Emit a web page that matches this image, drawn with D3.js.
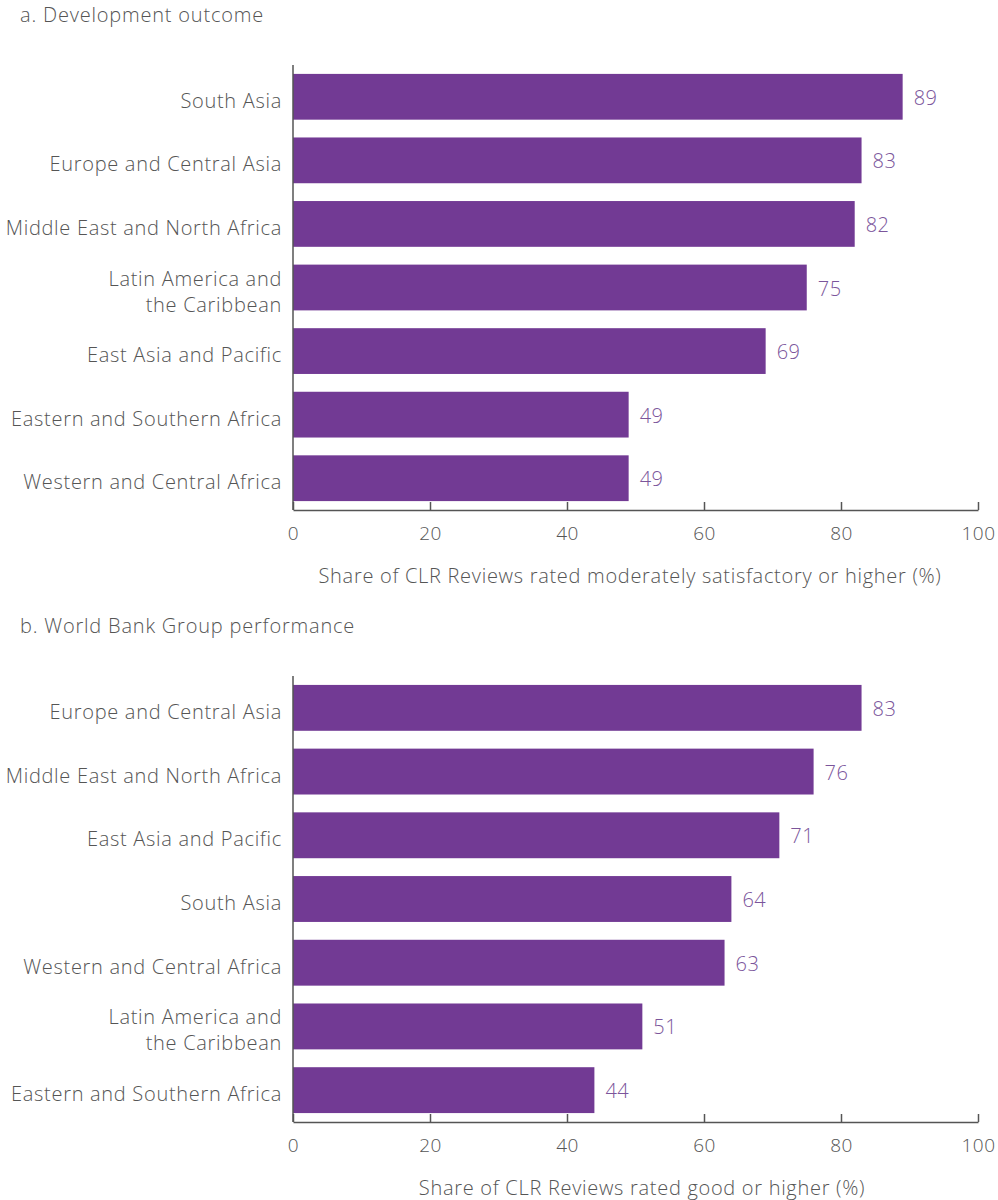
<!DOCTYPE html>
<html>
<head>
<meta charset="utf-8">
<script src="https://cdn.jsdelivr.net/npm/d3@7"></script>
<style>
  body { margin: 0; background: #fff; }
  svg text { font-family: "Open Sans", Lato, sans-serif; font-weight: 300; }
</style>
</head>
<body>
<svg id="chart"></svg>
<script>
// Panel a: development outcome
const regionsA = ['South Asia', 'Europe and Central Asia', 'Middle East and North Africa',
  'Latin America and\nthe Caribbean', 'East Asia and Pacific', 'Eastern and Southern Africa',
  'Western and Central Africa'];
const valuesA = [89, 83, 82, 75, 69, 49, 49];

// Panel b: World Bank Group performance
const regionsB = ['Europe and Central Asia', 'Middle East and North Africa', 'East Asia and Pacific',
  'South Asia', 'Western and Central Africa', 'Latin America and\nthe Caribbean',
  'Eastern and Southern Africa'];
const valuesB = [83, 76, 71, 64, 63, 51, 44];

const xTicks = [0, 20, 40, 60, 80, 100];

const width = 998, height = 1200;
const barColor = '#723a94';
const textColor = '#555555';

const svg = d3.select('#chart')
    .attr('width', width)
    .attr('height', height);

function drawPanel(cfg) {
  const x = d3.scaleLinear()
      .domain([0, 100])
      .range([293, 978]);

  const y = d3.scaleBand()
      .domain(cfg.regions)
      .range([cfg.top, cfg.bottom])
      .paddingInner(0.28)
      .paddingOuter(0.14);

  const g = svg.append('g');

  // Panel title
  g.append('text')
      .attr('x', 20)
      .attr('y', cfg.titleY)
      .attr('dy', '0.35em')
      .attr('fill', textColor)
      .style('font-size', '20px')
      .style('letter-spacing', '0.8px')
      .text(cfg.title);

  // Bars
  g.selectAll('.bar')
      .data(cfg.values)
    .enter().append('rect')
      .attr('class', 'bar')
      .attr('x', x(0))
      .attr('y', (d, i) => y(cfg.regions[i]))
      .attr('width', d => x(d) - x(0))
      .attr('height', y.bandwidth())
      .attr('fill', barColor);

  // Value labels
  g.selectAll('.value')
      .data(cfg.values)
    .enter().append('text')
      .attr('class', 'value')
      .attr('x', d => x(d) + 11)
      .attr('y', (d, i) => y(cfg.regions[i]) + y.bandwidth() / 2 + 1)
      .attr('dy', '0.35em')
      .attr('fill', '#7b559b')
      .style('font-size', '20px')
      .style('letter-spacing', '0.5px')
      .text(d => d);

  // X axis, ticks pointing up
  const xAxis = d3.axisBottom(x)
      .tickValues(xTicks)
      .tickSizeInner(-8)
      .tickSizeOuter(0)
      .tickPadding(17);

  const xAxisG = g.append('g')
      .attr('transform', `translate(0,${cfg.bottom})`)
      .call(xAxis);
  xAxisG.select('.domain').attr('stroke', '#555').attr('stroke-width', 1.5);
  xAxisG.selectAll('.tick line').attr('stroke', '#555').attr('stroke-width', 1.5);
  xAxisG.selectAll('.tick text')
      .attr('fill', textColor)
      .style('font-size', '19px')
      .style('letter-spacing', '0.5px')
      .style('font-family', '"Open Sans", Lato, sans-serif');

  // Y axis line
  g.append('line')
      .attr('x1', x(0)).attr('x2', x(0))
      .attr('y1', cfg.top).attr('y2', cfg.bottom)
      .attr('stroke', '#555')
      .attr('stroke-width', 1.5);

  // Category labels (may wrap on two lines)
  const labels = g.selectAll('.cat')
      .data(cfg.regions)
    .enter().append('text')
      .attr('class', 'cat')
      .attr('text-anchor', 'end')
      .attr('fill', textColor)
      .style('font-size', '20px')
      .style('letter-spacing', '0.7px');

  labels.each(function(d) {
    const lines = d.split('\n');
    const cy = y(d) + y.bandwidth() / 2 + 4;
    const lh = 26;
    lines.forEach((line, k) => {
      d3.select(this).append('tspan')
          .attr('x', 282)
          .attr('y', cy + (k - (lines.length - 1) / 2) * lh)
          .attr('dy', '0.35em')
          .text(line);
    });
  });

  // Axis title
  g.append('text')
      .attr('x', cfg.axisTitleX)
      .attr('y', cfg.axisTitleY)
      .attr('dy', '0.35em')
      .attr('text-anchor', 'middle')
      .attr('fill', textColor)
      .style('font-size', '20px')
      .style('letter-spacing', '0.7px')
      .text(cfg.axisTitle);
}

drawPanel({
  title: 'a. Development outcome',
  titleY: 15,
  regions: regionsA,
  values: valuesA,
  top: 65,
  bottom: 510,
  axisTitleX: 630,
  axisTitleY: 576,
  axisTitle: 'Share of CLR Reviews rated moderately satisfactory or higher (%)'
});

drawPanel({
  title: 'b. World Bank Group performance',
  titleY: 626,
  regions: regionsB,
  values: valuesB,
  top: 676,
  bottom: 1122,
  axisTitleX: 642,
  axisTitleY: 1188,
  axisTitle: 'Share of CLR Reviews rated good or higher (%)'
});
</script>
</body>
</html>
